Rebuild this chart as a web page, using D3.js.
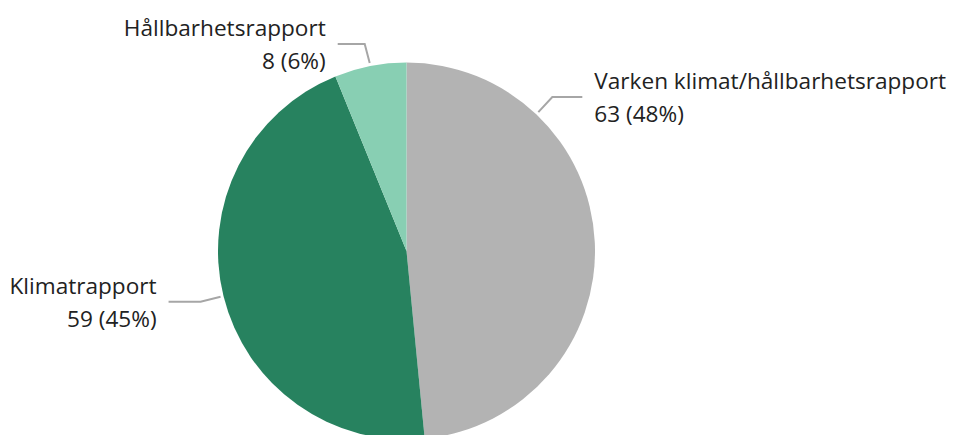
<!DOCTYPE html>
<html lang="sv">
<head>
<meta charset="utf-8">
<title>Rapporter</title>
<script src="https://cdn.jsdelivr.net/npm/d3@7"></script>
<style>
  body { margin: 0; background: #fff; }
  text { font-family: "Open Sans", "Noto Sans", sans-serif; font-size: 22.6px; fill: #222; }
  .leader { fill: none; stroke: #a6a6a6; stroke-width: 2px; }
</style>
</head>
<body>
<div id="chart"></div>
<script>
// data
const categories = ["Varken klimat/hållbarhetsrapport", "Klimatrapport", "Hållbarhetsrapport"];
const values = [63, 59, 8];
const colors = ["#b3b3b3", "#27825f", "#88cfb3"];

const width = 956, height = 435;
const cx = 406.5, cy = 251, radius = 188.5;

// label placement: angle override (deg, null = slice middle), elbow offset, horizontal run
const labelLayout = [
  { angle: 43.5, elbow: [14, -15], run: 30 },
  { angle: null, elbow: [-20, 5], run: -32 },
  { angle: null, elbow: [-5, -19], run: -27 }
];

const svg = d3.select("#chart").append("svg")
  .attr("width", width)
  .attr("height", height);

const g = svg.append("g").attr("transform", `translate(${cx},${cy})`);

const total = d3.sum(values);
const rows = categories.map((c, i) => ({ name: c, value: values[i], color: colors[i], layout: labelLayout[i] }));

const pie = d3.pie().value(d => d.value).sort(null);
const arc = d3.arc().innerRadius(0).outerRadius(radius);
const arcs = pie(rows);

g.selectAll("path.slice")
  .data(arcs)
  .join("path")
  .attr("class", "slice")
  .attr("d", arc)
  .attr("fill", d => d.data.color);

const pct = d3.format(".0%");

arcs.forEach(d => {
  const lay = d.data.layout;
  const a = lay.angle == null ? (d.startAngle + d.endAngle) / 2 : lay.angle * Math.PI / 180;
  const p0 = d3.pointRadial(a, radius + 3);
  const p1 = [p0[0] + lay.elbow[0], p0[1] + lay.elbow[1]];
  const p2 = [p1[0] + lay.run, p1[1]];

  g.append("path")
    .attr("class", "leader")
    .attr("d", d3.line()([p0, p1, p2]));

  const right = lay.run > 0;
  const tx = p2[0] + (right ? 12 : -12);
  const t = g.append("text")
    .attr("text-anchor", right ? "start" : "end");
  t.append("tspan").attr("x", tx).attr("y", p2[1] - 8).text(d.data.name);
  t.append("tspan").attr("x", tx).attr("y", p2[1] + 25)
    .text(`${d.data.value} (${pct(d.data.value / total)})`);
});
</script>
</body>
</html>
